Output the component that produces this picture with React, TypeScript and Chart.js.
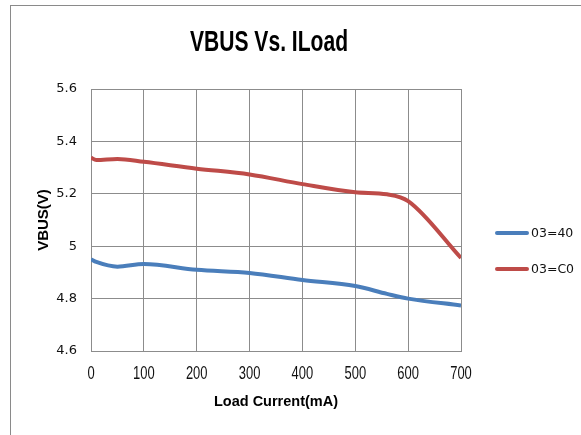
import React, { useEffect, useRef } from "react";
import { Chart, registerables } from "chart.js";

Chart.register(...registerables);

const loadCurrent = [0, 10, 50, 100, 200, 300, 400, 500, 560, 600, 700];
const vbus40 = [4.95, 4.94, 4.922, 4.932, 4.91, 4.898, 4.871, 4.848, 4.818, 4.8, 4.774];
const vbusC0 = [5.338, 5.329, 5.333, 5.322, 5.296, 5.274, 5.237, 5.206, 5.198, 5.172, 4.955];
const seriesNames = ["03=40", "03=C0"];
const seriesColors = ["#4a7ebb", "#be4b48"];
const titleText = "VBUS Vs. ILoad";
const xTitle = "Load Current(mA)";
const yTitle = "VBUS(V)";

function drawSqueezed(ctx: any, text: string, cx: number, cy: number, font: string, width: number | null, sx: number) {
  ctx.save();
  ctx.font = font;
  ctx.textAlign = "center";
  ctx.textBaseline = "middle";
  const w = ctx.measureText(text).width;
  const k = width ? width / w : sx;
  ctx.translate(cx, cy);
  ctx.scale(k, 1);
  ctx.fillText(text, 0, 0);
  ctx.restore();
}

const extrasPlugin = {
  id: "extras",
  afterDraw(chart: any) {
    const ctx = chart.ctx;
    const area = chart.chartArea;
    // title
    ctx.fillStyle = "#000";
    drawSqueezed(ctx, titleText, 269, 43, "bold 29px 'Liberation Sans'", 158, 1);
    // x tick labels
    const xs = chart.scales.x;
    ctx.fillStyle = "#111";
    xs.ticks.forEach((t: any) => {
      const px = xs.getPixelForValue(t.value);
      drawSqueezed(ctx, String(t.value), px, 374, "18px 'Liberation Sans'", null, 0.72);
    });
    // legend
    const x0 = area.right + 36;
    const yStart = 233;
    const gap = 36;
    ctx.save();
    chart.data.datasets.forEach((ds: any, i: number) => {
      const y = yStart + i * gap;
      ctx.strokeStyle = ds.borderColor;
      ctx.lineWidth = 4;
      ctx.lineCap = "round";
      ctx.beginPath();
      ctx.moveTo(x0, y);
      ctx.lineTo(x0 + 30, y);
      ctx.stroke();
      ctx.fillStyle = "#111";
      ctx.font = "12.5px 'DejaVu Sans'";
      ctx.textBaseline = "middle";
      ctx.textAlign = "left";
      ctx.fillText(ds.label, x0 + 34, y + 1);
    });
    ctx.restore();
  },
};

export default function App() {
  const ref = useRef<HTMLCanvasElement | null>(null);
  useEffect(() => {
    if (!ref.current) return;
    const mk = (ys: number[]) => loadCurrent.map((x, i) => ({ x, y: ys[i] }));
    const chart = new Chart(ref.current, {
      type: "line",
      data: {
        datasets: [
          {
            label: seriesNames[0],
            data: mk(vbus40),
            borderColor: seriesColors[0],
            backgroundColor: seriesColors[0],
            borderWidth: 4,
            pointRadius: 0,
            cubicInterpolationMode: "monotone",
          },
          {
            label: seriesNames[1],
            data: mk(vbusC0),
            borderColor: seriesColors[1],
            backgroundColor: seriesColors[1],
            borderWidth: 4,
            pointRadius: 0,
            cubicInterpolationMode: "monotone",
          },
        ],
      },
      options: {
        animation: false,
        responsive: false,
        layout: { padding: { left: 0, right: 120, top: 89, bottom: 0 } },
        plugins: {
          legend: { display: false },
          tooltip: { enabled: false },
          title: { display: false },
        },
        scales: {
          x: {
            type: "linear",
            min: 0,
            max: 700,
            afterFit: (s: any) => {
              s.height = 84;
            },
            ticks: {
              stepSize: 100,
              display: false,
            },
            grid: { color: "#8c8c8c", lineWidth: 1, drawTicks: false },
            border: { color: "#8c8c8c" },
            title: {
              display: true,
              text: xTitle,
              color: "#000",
              font: { family: "'Liberation Sans'", size: 14.5, weight: "bold" },
              padding: { top: 0, bottom: 24 },
            },
          },
          y: {
            min: 4.6,
            max: 5.6,
            afterFit: (s: any) => {
              s.width = 91;
            },
            ticks: {
              stepSize: 0.2,
              color: "#111",
              padding: 14,
              font: { family: "'DejaVu Sans'", size: 13 },
              callback: (v: any) => String(Number(Number(v).toFixed(1))),
            },
            grid: { color: "#8c8c8c", lineWidth: 1, drawTicks: false },
            border: { color: "#8c8c8c" },
            title: {
              display: true,
              text: yTitle,
              color: "#000",
              font: { family: "'Liberation Sans'", size: 15, weight: "bold" },
              padding: { top: 35, bottom: 0 },
            },
          },
        },
      },
      plugins: [extrasPlugin],
    } as any);
    return () => chart.destroy();
  }, []);

  return (
    <div style={{ position: "fixed", left: 0, top: 0, width: 581, height: 435, background: "#fff", overflow: "hidden" }}>
      <div
        style={{
          position: "absolute",
          left: 10,
          top: 5,
          width: 700,
          height: 600,
          border: "1px solid #8a8a8a",
        }}
      />
      <canvas ref={ref} width={581} height={435} style={{ position: "absolute", left: 0, top: 0 }} />
    </div>
  );
}
